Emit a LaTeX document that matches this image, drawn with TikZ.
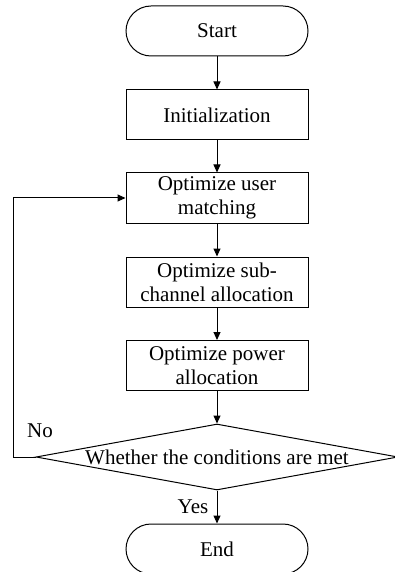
\documentclass[tikz,border=0pt]{standalone}
\usepackage{fontspec}
\setmainfont{Liberation Serif}
\usetikzlibrary{shapes.geometric,arrows.meta}

\begin{document}
\begin{tikzpicture}[x=0.5pt,y=-0.5pt,line width=0.5pt,
  every node/.style={font=\fontsize{10.5}{12}\selectfont},
  terminal/.style={draw, rounded corners=12.5pt, minimum width=91pt, minimum height=25pt},
  process/.style={draw, minimum width=91pt, minimum height=25pt, align=center, inner sep=1pt},
  decision/.style={draw, diamond, aspect=5.5, inner sep=0pt, minimum width=181pt, minimum height=33pt},
  arrow/.style={-{Triangle[length=4pt,width=3.5pt]}}]
\useasboundingbox (0,0) rectangle (395,572);
\node[terminal] (start) at (217,31) {Start};
\node[process] (init) at (217,115) {Initialization};
\node[process] (match) at (217,198) {Optimize user\\matching};
\node[process] (chan) at (217,282) {Optimize sub-\\channel allocation};
\node[process] (power) at (217,365.5) {Optimize power\\allocation};
\node[decision] (check) at (217,457) {Whether the conditions are met};
\node[terminal] (end) at (217,549) {End};
\draw[arrow] (start) -- (init);
\draw[arrow] (init) -- (match);
\draw[arrow] (match) -- (chan);
\draw[arrow] (chan) -- (power);
\draw[arrow] (power) -- (check);
\draw[arrow] (check) -- (end);
\draw[arrow] (check.west) -- ++(-22,0) |- (match.west);
\node (no) at (40,431) {No};
\node (yes) at (193,507) {Yes};
\end{tikzpicture}
\end{document}
